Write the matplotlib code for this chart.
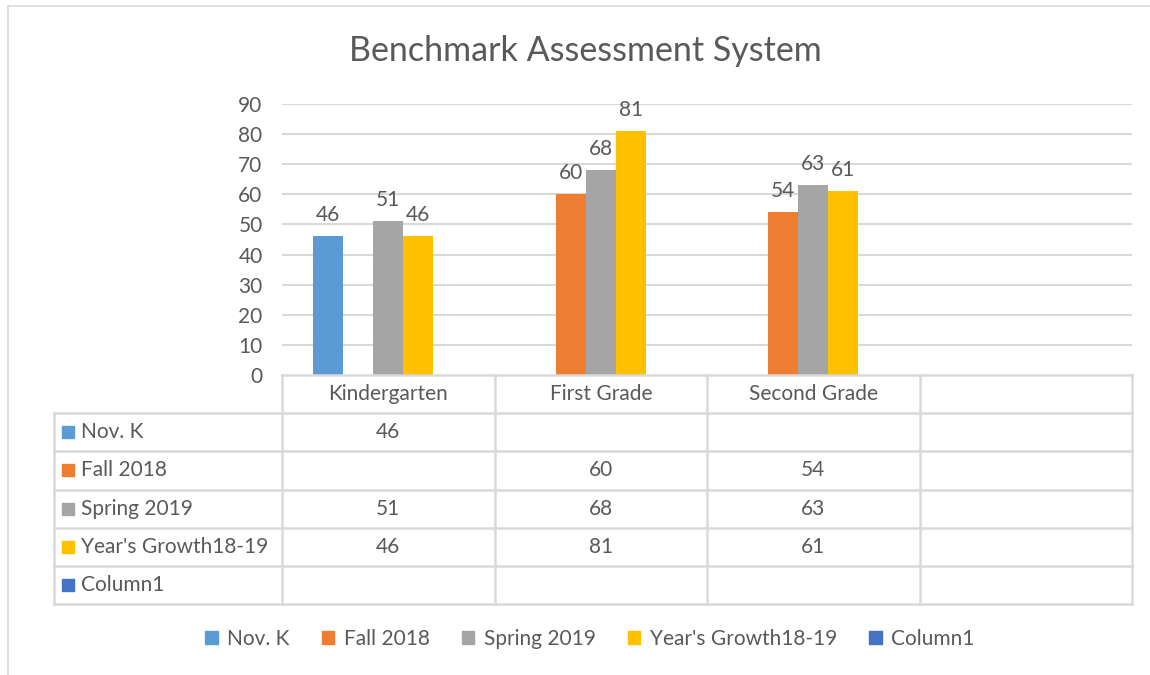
import numpy as np
import matplotlib
matplotlib.use("Agg")
import matplotlib.pyplot as plt
from matplotlib.patches import Patch

plt.rcParams['font.family'] = ['Lato', 'DejaVu Sans']

categories = ["Kindergarten", "First Grade", "Second Grade", ""]
series = ["Nov. K", "Fall 2018", "Spring 2019", "Year's Growth18-19", "Column1"]
nov_k = [46, np.nan, np.nan, np.nan]
fall_2018 = [np.nan, 60, 54, np.nan]
spring_2019 = [51, 68, 63, np.nan]
growth = [46, 81, 61, np.nan]
column1 = [np.nan, np.nan, np.nan, np.nan]
values = [nov_k, fall_2018, spring_2019, growth, column1]
colors = ["#5B9BD5", "#ED7D31", "#A5A5A5", "#FFC000", "#4472C4"]

txt = "#595959"
grid = "#D9D9D9"
W, H = 1150, 675
fs = 15

fig = plt.figure(figsize=(W / 100, H / 100), dpi=100)

def box(x0, y0, x1, y1):
    # pixel box -> figure fraction
    return [x0 / W, 1 - y1 / H, (x1 - x0) / W, (y1 - y0) / H]

# outer frame
fig.add_artist(plt.Line2D([8 / W, 8 / W], [0, 1 - 6 / H], color="#D9D9D9", lw=1.2))
fig.add_artist(plt.Line2D([8 / W, 1], [1 - 6 / H, 1 - 6 / H], color="#D9D9D9", lw=1.2))

fig.text(585 / W, 1 - 51 / H, "Benchmark Assessment System", ha="center", va="center",
         fontsize=24.5, color=txt)

# bars
ax = fig.add_axes(box(282, 104, 1132, 375))
n = len(series)
ind = np.arange(len(categories))
width = 0.141
for k in range(n):
    pos = ind + (k - (n - 1) / 2) * width
    v = np.array(values[k], dtype=float)
    ok = ~np.isnan(v)
    rects = ax.bar(pos[ok], v[ok], width, color=colors[k], zorder=3)
    for r, val in zip(rects, v[ok]):
        ax.annotate(str(int(val)), (r.get_x() + r.get_width() / 2, r.get_height()),
                    xytext=(0, 8), textcoords="offset points", ha="center", va="bottom",
                    fontsize=fs, color=txt)

ax.set_xlim(-0.5, len(categories) - 0.5)
ax.set_ylim(0, 90)
ax.set_yticks(np.arange(0, 91, 10))
ax.set_xticks([])
ax.tick_params(axis="y", length=0, pad=14, labelsize=fs, labelcolor=txt)
for s in ax.spines.values():
    s.set_visible(False)
for t in np.arange(10, 91, 10):
    ax.axhline(t, color=grid, lw=1.5, zorder=1)

# data table
tab = fig.add_axes(box(54, 375, 1132, 604))
lab_w = (282 - 54) / 212.5
x_left = -0.5 - lab_w
x_right = len(categories) - 0.5
rows = n + 1
tab.set_xlim(x_left, x_right)
tab.set_ylim(rows, 0)
tab.axis("off")
lc = dict(color=grid, lw=1.8, clip_on=False)
tab.plot([-0.5, x_right], [0, 0], **lc)
for r in range(1, rows + 1):
    tab.plot([x_left, x_right], [r, r], **lc)
tab.plot([x_left, x_left], [1, rows], **lc)
for c in range(len(categories) + 1):
    tab.plot([c - 0.5, c - 0.5], [0, rows], **lc)

for i, cat in enumerate(categories):
    tab.text(i, 0.5, cat, ha="center", va="center", fontsize=fs, color=txt)
for k in range(n):
    y = k + 1.5
    tab.plot(x_left + 0.064, y, marker="s", ms=8.5, color=colors[k], ls="none")
    tab.text(x_left + 0.125, y, series[k], ha="left", va="center", fontsize=fs, color=txt)
    for i, val in enumerate(values[k]):
        if not np.isnan(val):
            tab.text(i, y, str(int(val)), ha="center", va="center", fontsize=fs, color=txt)

handles = [Patch(color=c, label=s) for c, s in zip(colors, series)]
fig.legend(handles=handles, loc="center", bbox_to_anchor=(590 / W, 1 - 639 / H), ncol=5,
           frameon=False, fontsize=fs, labelcolor=txt, handlelength=0.6, handleheight=0.6,
           handletextpad=0.45, columnspacing=1.55)

fig.savefig("out.png", dpi=100, facecolor="white")
